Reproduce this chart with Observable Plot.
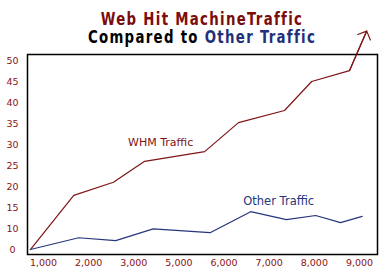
<!DOCTYPE html>
<html><head><meta charset="utf-8">
<script src="https://cdn.jsdelivr.net/npm/d3@7"></script>
<script src="https://cdn.jsdelivr.net/npm/@observablehq/plot@0.6"></script>
<style>
body{margin:0;background:#fff;}
#wrap{position:relative;width:380px;height:280px;}
#wrap svg{display:block}
.t{position:absolute;left:0;width:404px;text-align:center;font-family:"Liberation Sans Narrow","DejaVu Sans Condensed","DejaVu Sans",sans-serif;font-stretch:condensed;font-weight:bold;font-size:17px;letter-spacing:1.5px;line-height:17px;white-space:nowrap;transform:scaleX(0.87);transform-origin:202px 50%}
</style></head><body>
<div id="wrap">
<div class="t" style="top:11px;color:#7a0c0c">Web Hit MachineTraffic</div>
<div class="t" style="top:28.5px;color:#000">Compared to <span style="color:#22307a">Other Traffic</span></div>
</div>
<script>
// x positions are in units of the x tick slots (0 = "1,000", 1 = "2,000", ...)
const xLabels = ["1,000", "2,000", "3,000", "5,000", "6,000", "7,000", "8,000", "9,000"];
// y axis slots and their printed labels
const yTickValues = [0, 5, 10, 15, 20, 25, 30, 35, 40, 45];
const yLabels = ["0", "10", "15", "20", "25", "30", "35", "40", "45", "50"];

const whmX = [-0.29, 0.67, 1.55, 2.24, 3.57, 4.32, 5.34, 5.94, 6.78, 7.16];
const whmY = [0, 12.9, 16.0, 21.0, 23.3, 30.2, 33.1, 40.0, 42.6, 52.0];
const otherX = [-0.29, 0.78, 1.6, 2.43, 3.69, 4.59, 5.38, 6.03, 6.58, 7.06];
const otherY = [0, 2.8, 2.1, 4.9, 4.0, 9.0, 7.1, 8.1, 6.4, 7.9];

const whm = whmX.map((x, i) => ({x, y: whmY[i]}));
const other = otherX.map((x, i) => ({x, y: otherY[i]}));
const n = whm.length;
const lastSeg = [{x1: whm[n - 2].x, y1: whm[n - 2].y, x2: whm[n - 1].x, y2: whm[n - 1].y}];

const red = "#7f1416";
const blue = "#26357c";
const tick = "#8a1212";

const plot = Plot.plot({
  width: 380, height: 280,
  marginLeft: 27, marginRight: 3, marginTop: 54, marginBottom: 26,
  x: {domain: [-0.354, 7.399], axis: null},
  y: {domain: [-1.19, 46.43], axis: null},
  style: {background: "white", fontFamily: "'DejaVu Sans', Verdana, sans-serif"},
  marks: [
    Plot.frame({stroke: "#000", strokeWidth: 1.5}),
    Plot.line(whm, {x: "x", y: "y", stroke: red, strokeWidth: 1.2}),
    Plot.arrow(lastSeg, {x1: "x1", y1: "y1", x2: "x2", y2: "y2", stroke: red, strokeWidth: 1.2, headLength: 12, headAngle: 92}),
    Plot.line(other, {x: "x", y: "y", stroke: blue, strokeWidth: 1.2}),
    Plot.text(yTickValues, {y: d => d, text: (d, i) => yLabels[i], frameAnchor: "left", dx: -15, textAnchor: "middle", fill: tick, fontSize: 9.5}),
    Plot.text(xLabels, {x: (d, i) => i, text: d => d, frameAnchor: "bottom", dy: 11, fill: tick, fontSize: 9.5}),
    Plot.text([whm[3]], {x: "x", y: "y", text: () => "WHM Traffic", dx: 16, dy: -19, fill: red, fontSize: 11}),
    Plot.text([other[5]], {x: "x", y: "y", text: () => "Other Traffic", dx: 28, dy: -10, fill: blue, fontSize: 11.5})
  ]
});
document.getElementById("wrap").prepend(plot);
</script>
</body></html>
